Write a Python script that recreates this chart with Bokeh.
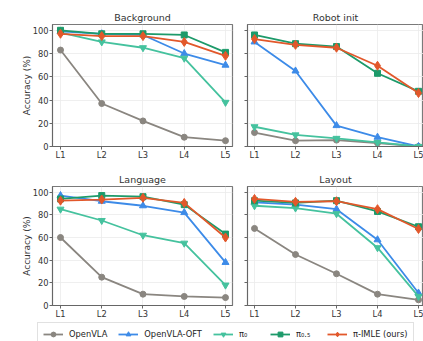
from bokeh.plotting import figure
from bokeh.models import Range1d, FixedTicker, Legend, LegendItem, Title
from bokeh.layouts import column, row
from bokeh.embed import file_html
from bokeh.resources import INLINE

levels = ["L1", "L2", "L3", "L4", "L5"]
panel_titles = ["Background", "Robot init", "Language", "Layout"]
methods = ["OpenVLA", "OpenVLA-OFT", "π₀", "π₀.₅", "π-IMLE (ours)"]

# values per panel: Background, Robot init, Language, Layout
openvla = [[83, 37, 22, 8, 5], [12, 5, 5.5, 3, 0], [60, 25, 10, 8, 7], [68, 45, 28, 10, 5]]
openvla_oft = [[99, 97, 96, 80, 70], [90, 65, 18, 8, 0], [97, 92, 88, 82, 38], [91, 89, 85, 58, 11]]
pi0 = [[98, 90, 85, 76, 38], [17, 10, 7, 3.5, 0], [85, 75, 62, 55, 18], [88, 86, 81, 51, 8]]
pi05 = [[100, 97, 97, 96, 81], [96, 88.5, 86, 63, 47.5], [94, 97, 96, 89, 63], [92.5, 90.5, 92.5, 83, 69.5]]
pi_imle = [[97, 95, 95, 90, 78], [92.5, 87.5, 85, 69.5, 46], [92.5, 93.5, 95, 90.5, 60], [94, 91.5, 92, 85, 67.5]]
y_ticks = [0, 20, 40, 60, 80, 100]

series = [openvla, openvla_oft, pi0, pi05, pi_imle]
colors = ["#8a8680", "#3d8be8", "#45c29e", "#1d9a6a", "#e2582b"]
markers = ["circle", "triangle", "inverted_triangle", "square", "diamond"]
msizes = [6, 7, 7, 6, 9]

FONT = "DejaVu Sans"
xs = list(range(1, len(levels) + 1))


def make_panel(k):
    left = k % 2 == 0
    top = k < 2
    width = 238 if left else 185
    height = 164 if top else 157
    xr = Range1d(0.806, 5.17) if left else Range1d(0.829, 5.122)
    title = Title(text=panel_titles[k], align="center", text_font=FONT, text_font_size="9.5px",
                  text_font_style="normal", text_color="#333333", standoff=4)
    p = figure(width=width, height=height, output_backend="svg", toolbar_location=None,
               x_range=xr, y_range=Range1d(0, 105), title=title,
               min_border_left=52 if left else 9, min_border_right=6 if left else 0,
               min_border_top=24 if top else 22, min_border_bottom=18 if top else 14)
    p.outline_line_color = "#7a7a7a"
    p.outline_line_width = 1.2
    for ax in (p.xaxis[0], p.yaxis[0]):
        ax.major_tick_in = 0
        ax.major_tick_out = 3
        ax.minor_tick_line_color = None
        ax.axis_line_color = "#666666"
        ax.major_tick_line_color = "#666666"
        ax.major_label_text_font = FONT
        ax.major_label_text_font_size = "8.3px"
        ax.major_label_text_color = "#333333"
        ax.major_label_standoff = 1
    p.xaxis.major_label_standoff = 0
    p.xaxis.ticker = FixedTicker(ticks=xs)
    p.xaxis.major_label_overrides = {i: lab for i, lab in zip(xs, levels)}
    p.yaxis.ticker = FixedTicker(ticks=y_ticks)
    if left:
        p.yaxis.axis_label = "Accuracy (%)"
        p.yaxis.axis_label_text_font = FONT
        p.yaxis.axis_label_text_font_size = "9px"
        p.yaxis.axis_label_text_font_style = "normal"
        p.yaxis.axis_label_text_color = "#333333"
        p.yaxis.axis_label_standoff = -2
    else:
        p.yaxis.major_label_overrides = {t: "" for t in y_ticks}
    p.grid.grid_line_color = "#ebebeb"
    p.grid.grid_line_width = 0.8
    for s, c, m, ms in zip(series, colors, markers, msizes):
        p.line(xs, s[k], line_color=c, line_width=1.8)
        p.scatter(xs, s[k], marker=m, size=ms, fill_color=c, line_color=c)
    return p


panels = [make_panel(k) for k in range(4)]

leg = figure(width=423, height=20, output_backend="svg", toolbar_location=None,
             x_range=Range1d(0, 1), y_range=Range1d(0, 1),
             min_border_left=37, min_border_right=0, min_border_top=1, min_border_bottom=0)
leg.axis.visible = False
leg.grid.visible = False
leg.outline_line_color = None
items = []
for name, c, m, ms in zip(methods, colors, markers, msizes):
    lr = leg.line([5, 6], [5, 6], line_color=c, line_width=1.8)
    sr = leg.scatter([5], [5], marker=m, size=ms, fill_color=c, line_color=c)
    items.append(LegendItem(label=name, renderers=[lr, sr]))
legend = Legend(items=items, orientation="horizontal", location="top_left")
legend.margin = 0
legend.padding = 5
legend.spacing = 11
legend.glyph_width = 20
legend.glyph_height = 12
legend.label_standoff = 6
legend.label_text_font = FONT
legend.label_text_font_size = "8.3px"
legend.label_text_color = "#222222"
legend.border_line_color = "#c4c4c4"
legend.border_line_width = 1
legend.background_fill_alpha = 1
leg.add_layout(legend, "center")

layout = column(row(panels[0], panels[1]), row(panels[2], panels[3]), leg)
open("out.html", "w").write(file_html(layout, INLINE))
